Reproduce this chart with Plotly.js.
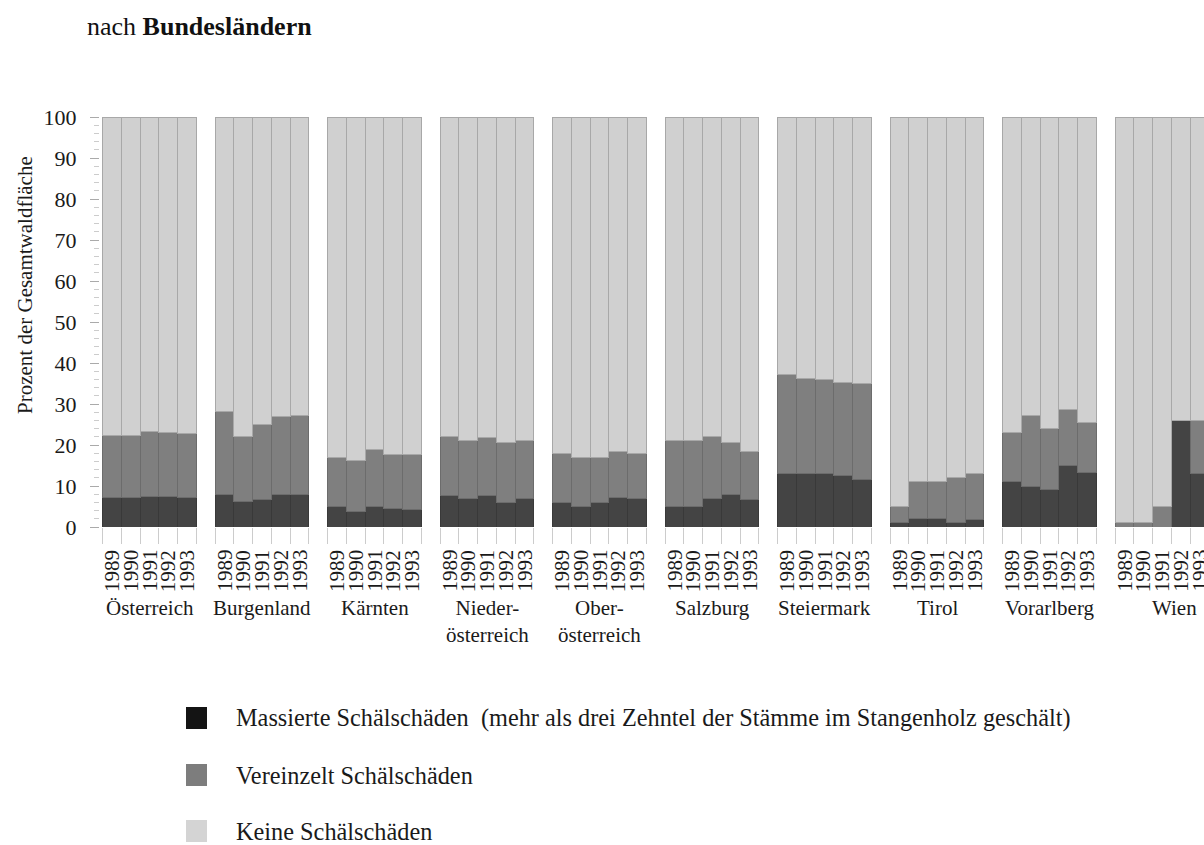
<!DOCTYPE html>
<html>
<head>
<meta charset="utf-8">
<script src="https://cdn.plot.ly/plotly-3.0.1.min.js"></script>
<style>html,body{margin:0;padding:0;background:#fff;}#chart{width:1204px;height:845px;}</style>
</head>
<body>
<div id="chart"></div>
<script>
// ---- data ----
const groups = ["Österreich", "Burgenland", "Kärnten", "Nieder-<br>österreich", "Ober-<br>österreich",
                "Salzburg", "Steiermark", "Tirol", "Vorarlberg", "Wien"];
const years = ["1989", "1990", "1991", "1992", "1993"];

// Massierte Schälschäden (% der Gesamtwaldfläche), 5 years per Bundesland
const massierte = [
  7.3, 7.1, 7.5, 7.5, 7.3,      // Österreich
  7.9, 6.1, 6.8, 7.9, 7.9,      // Burgenland
  4.9, 3.9, 4.9, 4.6, 4.3,      // Kärnten
  7.8, 6.9, 7.8, 6.0, 6.9,      // Niederösterreich
  5.9, 4.9, 5.9, 7.3, 6.9,      // Oberösterreich
  4.9, 4.9, 6.9, 8.0, 6.7,      // Salzburg
  13.0, 13.0, 13.0, 12.6, 11.6, // Steiermark
  1.0, 2.0, 2.0, 1.2, 1.9,      // Tirol
  11.0, 9.9, 9.1, 14.9, 13.2,   // Vorarlberg
  0.0, 0.0, 0.0, 25.9, 13.0     // Wien
];
// Vereinzelt Schälschäden
const vereinzelt = [
  15.1, 15.3, 15.7, 15.6, 15.5,
  20.2, 15.9, 18.3, 19.0, 19.4,
  12.1, 12.2, 14.1, 13.2, 13.5,
  14.2, 14.1, 14.1, 14.6, 14.3,
  12.0, 12.1, 11.1, 11.2, 11.0,
  16.1, 16.1, 15.1, 12.6, 11.6,
  24.1, 23.3, 23.0, 22.6, 23.3,
  4.1, 9.0, 9.0, 10.9, 11.1,
  12.1, 17.2, 15.0, 13.8, 12.3,
  1.0, 1.0, 5.1, 0.0, 12.9
];
// Keine Schälschäden
const keine = [
  77.6, 77.6, 76.8, 76.9, 77.2,
  71.9, 78.0, 74.9, 73.1, 72.7,
  83.0, 83.9, 81.0, 82.2, 82.2,
  78.0, 79.0, 78.1, 79.4, 78.8,
  82.1, 83.0, 83.0, 81.5, 82.1,
  79.0, 79.0, 78.0, 79.4, 81.7,
  62.9, 63.7, 64.0, 64.8, 65.1,
  94.9, 89.0, 89.0, 87.9, 87.0,
  76.9, 72.9, 75.9, 71.3, 74.5,
  99.0, 99.0, 94.9, 74.1, 74.1
];
const seriesNames = [
  "Massierte Schälschäden  (mehr als drei Zehntel der Stämme im Stangenholz geschält)",
  "Vereinzelt Schälschäden",
  "Keine Schälschäden"
];

// ---- build categorical x with spacer slots between Bundesländer ----
const cats = [], idxMap = [], midCats = [], barCats = [], barYears = [];
groups.forEach((g, gi) => {
  if (gi > 0) { cats.push("gap" + gi); idxMap.push(-1); }
  years.forEach((y, yi) => {
    const c = g.replace("<br>", "") + " " + y;
    cats.push(c); idxMap.push(gi * years.length + yi);
    barCats.push(c); barYears.push(y);
    if (yi === 2) midCats.push(c);
  });
});
const pick = arr => idxMap.map(i => i < 0 ? null : arr[i]);

const fills = ["#444444", "#7f7f7f", "#d0d0d0"];
const edges = ["#393939", "#6c6c6c", "#a8a8a8"];
const legendFills = ["#141414", "#7d7d7d", "#d4d4d4"];
const vals = [massierte, vereinzelt, keine];

const traces = vals.map((v, k) => ({
  type: "bar", x: cats, y: pick(v), name: seriesNames[k],
  marker: { color: fills[k], line: { color: edges[k], width: 1 } },
  showlegend: false, hoverinfo: "x+y+name"
}));

const W = 1204, H = 845, L = 100, T = 117, B = 318, R = 0;
const pw = W - L - R, ph = H - T - B;
const px2x = p => (p - L) / pw, py2y = p => (H - B - p) / ph;
const serif = "Liberation Serif, Times New Roman, serif";

const annotations = [];
// rotated year labels below each bar
barCats.forEach((c, i) => annotations.push({
  x: c, xref: "x", y: py2y(549), yref: "paper", textangle: -90,
  xanchor: "center", yanchor: "top", showarrow: false, text: barYears[i], borderpad: 0,
  font: { family: serif, size: 21, color: "#1a1a1a" }
}));
// Bundesland labels
groups.forEach((g, gi) => annotations.push({
  x: midCats[gi], xref: "x", y: py2y(594), yref: "paper",
  xshift: gi === groups.length - 1 ? 12 : 0,
  yanchor: "top", xanchor: "center", showarrow: false, text: g,
  font: { family: serif, size: 21, color: "#1a1a1a" }
}));
// y-axis title (placed as rotated text to match its vertical offset)
annotations.push({
  x: px2x(25), y: py2y(285), xref: "paper", yref: "paper", textangle: -90,
  xanchor: "center", yanchor: "middle", showarrow: false,
  text: "Prozent der Gesamtwaldfläche",
  font: { family: serif, size: 21, color: "#1a1a1a" }
});
const shapes = [];
const legendY = [718, 775, 831];
seriesNames.forEach((n, k) => {
  shapes.push({
    type: "rect", xref: "paper", yref: "paper",
    x0: px2x(186), x1: px2x(207), y0: py2y(legendY[k] - 11), y1: py2y(legendY[k] + 11),
    fillcolor: legendFills[k], line: { width: 0 }
  });
  annotations.push({
    x: px2x(234), y: py2y(legendY[k]), xref: "paper", yref: "paper",
    xanchor: "left", yanchor: "middle", showarrow: false, text: n,
    font: { family: serif, size: 24.3, color: "#1a1a1a" }
  });
});

const layout = {
  width: W, height: H,
  margin: { l: L, r: R, t: T, b: B },
  paper_bgcolor: "#fff", plot_bgcolor: "#fff",
  barmode: "stack", bargap: 0,
  font: { family: serif, color: "#1a1a1a" },
  title: {
    text: "nach <b>Bundesländern</b>", x: 87 / W, xanchor: "left", xref: "container",
    y: 1 - 26 / H, yanchor: "middle", yref: "container",
    font: { family: serif, size: 26, color: "#111" }
  },
  xaxis: {
    type: "category", categoryorder: "array", categoryarray: cats,
    range: [-0.644, 58.24], tickmode: "array", tickvals: cats,
    showticklabels: false, tickson: "boundaries", ticks: "outside", ticklen: 16,
    tickcolor: "#cccccc", tickwidth: 1, showgrid: false, showline: false, zeroline: false,
    fixedrange: true
  },
  yaxis: {
    range: [0, 100], dtick: 10, tick0: 0, ticks: "outside", ticklen: 9, tickcolor: "#aaaaaa",
    minor: { dtick: 2, ticks: "outside", ticklen: 5, tickcolor: "#cccccc" },
    ticklabelstandoff: 9, showgrid: false, zeroline: false, showline: false,
    tickfont: { family: serif, size: 22, color: "#1a1a1a" },
    automargin: false, fixedrange: true
  },
  annotations: annotations, shapes: shapes, showlegend: false
};

Plotly.newPlot("chart", traces, layout, { displayModeBar: false, staticPlot: true });
</script>
</body>
</html>
